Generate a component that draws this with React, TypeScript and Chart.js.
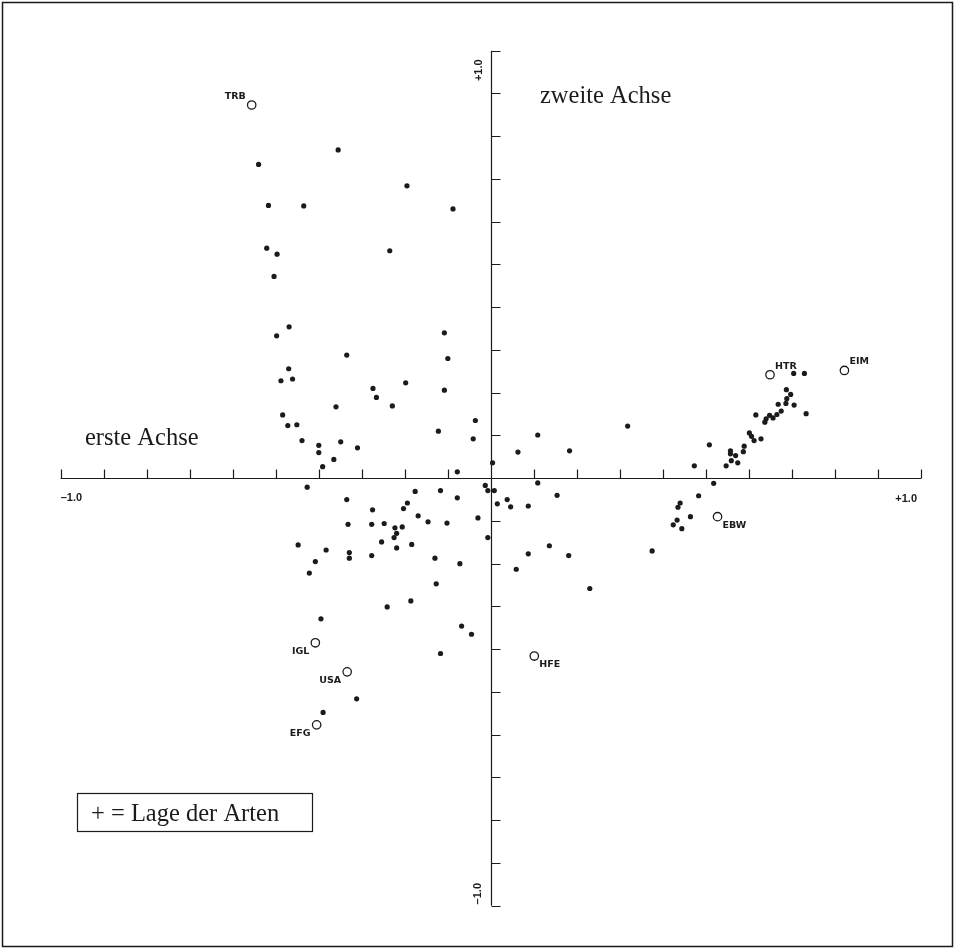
import React, { useEffect, useRef } from 'react';
import { Chart, registerables } from 'chart.js';

Chart.register(...registerables);

// Species positions ("+ = Lage der Arten")
const speciesX = [
  -0.540, -0.355, -0.517, -0.435, -0.195, -0.088, -0.521, -0.497, -0.235, -0.504,
  -0.469, -0.498, -0.108, -0.335, -0.100, -0.470, -0.488, -0.461, -0.274, -0.266,
  -0.198, -0.108, -0.360, -0.229, -0.484, -0.472, -0.451, -0.036, -0.122, -0.439,
  -0.400, -0.349, -0.310, -0.041, -0.400, -0.365, -0.391, 0.004, -0.078, 0.109,
  0.063, 0.183, 0.318, -0.427, -0.335, -0.176, -0.117, -0.078, -0.013, -0.007,
  0.008, 0.109, -0.275, -0.194, -0.203, 0.015, 0.038, 0.046, 0.087, 0.154,
  -0.169, -0.146, -0.102, -0.030, -0.332, -0.277, -0.248, -0.223, -0.206, -0.219,
  -0.225, -0.007, -0.448, -0.383, -0.329, -0.329, -0.277, -0.254, -0.219, -0.184,
  -0.130, -0.072, 0.087, 0.136, 0.181, 0.059, 0.230, -0.408, -0.422, -0.127,
  -0.186, -0.241, -0.395, -0.068, -0.045, -0.117, -0.312, -0.390, 0.704, 0.729,
  0.687, 0.697, 0.688, 0.668, 0.686, 0.705, 0.733, 0.675, 0.665, 0.616,
  0.640, 0.648, 0.656, 0.637, 0.601, 0.606, 0.612, 0.628, 0.508, 0.589,
  0.587, 0.557, 0.557, 0.569, 0.559, 0.574, 0.547, 0.473, 0.518, 0.483,
  0.440, 0.435, 0.464, 0.433, 0.424, 0.444, 0.375,
];
const speciesY = [
  0.734, 0.768, 0.638, 0.637, 0.684, 0.630, 0.538, 0.524, 0.532, 0.472,
  0.354, 0.333, 0.340, 0.288, 0.280, 0.256, 0.228, 0.232, 0.210, 0.189,
  0.223, 0.206, 0.167, 0.169, 0.148, 0.123, 0.125, 0.135, 0.110, 0.088,
  0.077, 0.085, 0.071, 0.092, 0.060, 0.044, 0.027, 0.036, 0.015, 0.101,
  0.061, 0.064, 0.122, -0.021, -0.050, -0.031, -0.029, -0.046, -0.017, -0.029,
  -0.029, -0.011, -0.074, -0.058, -0.071, -0.060, -0.050, -0.067, -0.065, -0.040,
  -0.088, -0.102, -0.105, -0.093, -0.108, -0.108, -0.106, -0.116, -0.114, -0.129,
  -0.139, -0.139, -0.156, -0.168, -0.174, -0.187, -0.181, -0.149, -0.163, -0.155,
  -0.187, -0.200, -0.177, -0.158, -0.181, -0.213, -0.258, -0.195, -0.222, -0.247,
  -0.287, -0.301, -0.329, -0.346, -0.365, -0.410, -0.516, -0.548, 0.245, 0.245,
  0.207, 0.196, 0.186, 0.173, 0.175, 0.171, 0.151, 0.157, 0.149, 0.148,
  0.139, 0.147, 0.141, 0.131, 0.106, 0.098, 0.088, 0.092, 0.078, 0.075,
  0.062, 0.064, 0.057, 0.053, 0.041, 0.036, 0.029, 0.029, -0.012, -0.041,
  -0.058, -0.068, -0.090, -0.098, -0.109, -0.118, -0.170,
];

// Sites (open circles with labels)
const siteLabels = ['TRB', 'HTR', 'EIM', 'EBW', 'HFE', 'IGL', 'USA', 'EFG'];
const siteX = [-0.556, 0.649, 0.822, 0.527, 0.101, -0.408, -0.334, -0.405];
const siteY = [0.873, 0.242, 0.252, -0.090, -0.416, -0.385, -0.453, -0.577];

// Axis ticks (every 0.1 from -1.0 to +1.0)
const axisTicks = [
  -1.0, -0.9, -0.8, -0.7, -0.6, -0.5, -0.4, -0.3, -0.2, -0.1, 0,
  0.1, 0.2, 0.3, 0.4, 0.5, 0.6, 0.7, 0.8, 0.9, 1.0,
];
const xEndLabels = ['\u20131.0', '+1.0'];
const yEndLabels = ['+1.0', '\u20131.0'];
const xAxisTitle = 'erste Achse';
const yAxisTitle = 'zweite Achse';
const legendText = '+ = Lage der Arten';

// label placement (style only)
const labelPlacement: Record<string, string> = {
  TRB: 'ul', HTR: 'ur', EIM: 'ur', EBW: 'dr', HFE: 'dr', IGL: 'dl', USA: 'dl', EFG: 'dl',
};

const INK = '#1b1b1b';

const overlayPlugin = {
  id: 'ordinationOverlay',
  beforeDatasetsDraw(chart: any) {
    const ctx = chart.ctx as CanvasRenderingContext2D;
    const xs = chart.scales.x;
    const ys = chart.scales.y;
    const x0 = Math.round(xs.getPixelForValue(0)) + 0.5;
    const y0 = Math.round(ys.getPixelForValue(0)) + 0.5;
    ctx.save();
    ctx.strokeStyle = INK;
    ctx.lineWidth = 1.2;
    ctx.beginPath();
    ctx.moveTo(xs.getPixelForValue(-1), y0);
    ctx.lineTo(xs.getPixelForValue(1), y0);
    ctx.moveTo(x0, ys.getPixelForValue(1));
    ctx.lineTo(x0, ys.getPixelForValue(-1));
    for (const v of axisTicks) {
      if (v === 0) continue;
      const px = Math.round(xs.getPixelForValue(v)) + 0.5;
      ctx.moveTo(px, y0);
      ctx.lineTo(px, y0 - 9);
      const py = Math.round(ys.getPixelForValue(v)) + 0.5;
      ctx.moveTo(x0, py);
      ctx.lineTo(x0 + 9, py);
    }
    ctx.stroke();

    // end labels on x axis
    ctx.fillStyle = INK;
    ctx.font = 'bold 11px "Liberation Sans", Arial, sans-serif';
    ctx.textBaseline = 'middle';
    ctx.textAlign = 'left';
    ctx.fillText(xEndLabels[0], xs.getPixelForValue(-1), y0 + 19);
    ctx.textAlign = 'right';
    ctx.fillText(xEndLabels[1], xs.getPixelForValue(1) - 4, y0 + 20);

    // end labels on y axis (rotated)
    ctx.textAlign = 'center';
    ctx.save();
    ctx.translate(x0 - 13, ys.getPixelForValue(1) + 19.5);
    ctx.rotate(-Math.PI / 2);
    ctx.fillText(yEndLabels[0], 0, 0);
    ctx.restore();
    ctx.save();
    ctx.translate(x0 - 14, ys.getPixelForValue(-1) - 12);
    ctx.rotate(-Math.PI / 2);
    ctx.fillText(yEndLabels[1], 0, 0);
    ctx.restore();

    // axis titles
    ctx.font = '24.5px "Liberation Serif", "Times New Roman", serif';
    ctx.textAlign = 'left';
    ctx.textBaseline = 'alphabetic';
    ctx.fillText(yAxisTitle, 540, 103);
    ctx.fillText(xAxisTitle, 85, 445);

    // legend box
    ctx.lineWidth = 1.2;
    ctx.strokeRect(77.5, 793.5, 235, 38);
    ctx.fillText(legendText, 91, 821);
    ctx.restore();
  },
  afterDatasetsDraw(chart: any) {
    const ctx = chart.ctx as CanvasRenderingContext2D;
    const xs = chart.scales.x;
    const ys = chart.scales.y;
    ctx.save();
    ctx.fillStyle = INK;
    ctx.font = 'bold 9.5px "DejaVu Sans", sans-serif';
    ctx.textBaseline = 'middle';
    siteLabels.forEach((lab, i) => {
      const px = xs.getPixelForValue(siteX[i]);
      const py = ys.getPixelForValue(siteY[i]);
      const p = labelPlacement[lab];
      const up = p[0] === 'u';
      const left = p[1] === 'l';
      ctx.textAlign = left ? 'right' : 'left';
      ctx.fillText(lab, px + (left ? -6 : 5), py + (up ? -8.5 : 8.5));
    });
    // outer frame
    ctx.strokeStyle = INK;
    ctx.lineWidth = 1.5;
    ctx.strokeRect(2.5, 2.5, 950, 944);
    ctx.restore();
  },
};

export default function App() {
  const canvasRef = useRef<HTMLCanvasElement | null>(null);

  useEffect(() => {
    const canvas = canvasRef.current;
    if (!canvas) return;
    const speciesData = speciesX.map((x, i) => ({ x, y: speciesY[i] }));
    const siteData = siteX.map((x, i) => ({ x, y: siteY[i] }));
    const chart = new Chart(canvas, {
      type: 'scatter',
      data: {
        datasets: [
          {
            label: 'Arten',
            data: speciesData,
            pointRadius: 2.6,
            pointHoverRadius: 2.6,
            backgroundColor: INK,
            borderWidth: 0,
          },
          {
            label: 'Standorte',
            data: siteData,
            pointRadius: 4.2,
            pointHoverRadius: 4.2,
            backgroundColor: 'rgba(255,255,255,1)',
            borderColor: INK,
            borderWidth: 1.3,
          },
        ],
      },
      options: {
        responsive: false,
        animation: false,
        devicePixelRatio: 1,
        layout: { padding: { left: 60.7, right: 34, top: 50.7, bottom: 43.3 } },
        plugins: { legend: { display: false }, tooltip: { enabled: false }, title: { display: false } },
        scales: {
          x: { type: 'linear', min: -1, max: 1, display: false },
          y: { type: 'linear', min: -1, max: 1, display: false },
        },
      },
      plugins: [overlayPlugin],
    });
    return () => chart.destroy();
  }, []);

  return (
    <div style={{ position: 'absolute', left: 0, top: 0, width: 955, height: 949, background: '#fff' }}>
      <canvas ref={canvasRef} width={955} height={949} style={{ width: 955, height: 949, display: 'block' }} />
    </div>
  );
}
